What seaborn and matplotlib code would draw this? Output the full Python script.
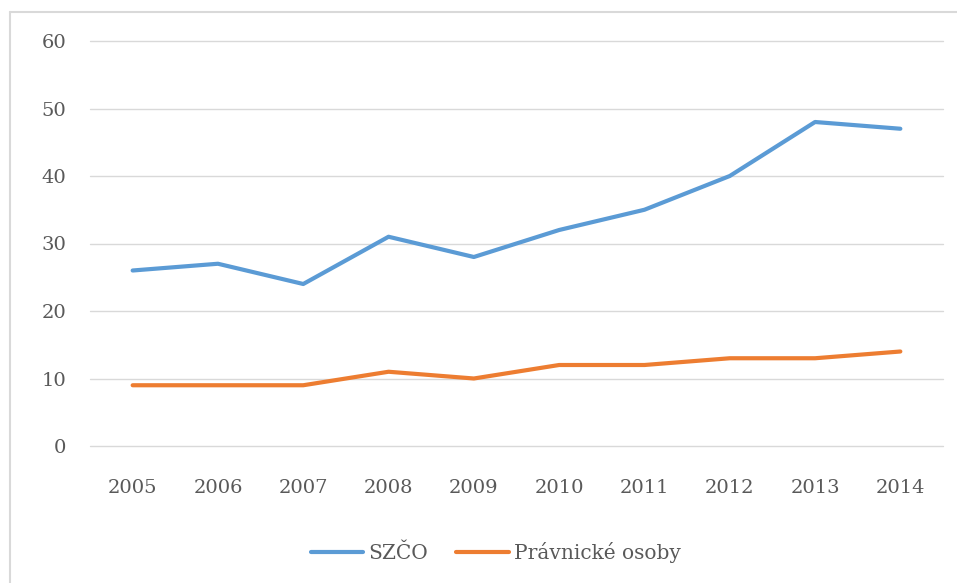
import matplotlib
matplotlib.use("Agg")
import matplotlib.pyplot as plt
from matplotlib.lines import Line2D
import seaborn as sns
import pandas as pd

years = ["2005", "2006", "2007", "2008", "2009", "2010", "2011", "2012", "2013", "2014"]
szco = [26, 27, 24, 31, 28, 32, 35, 40, 48, 47]
pravnicke = [9, 9, 9, 11, 10, 12, 12, 13, 13, 14]
series_names = ["SZČO", "Právnické osoby"]
yticks = [0, 10, 20, 30, 40, 50, 60]

df = pd.DataFrame({
    "rok": years * 2,
    "hodnota": szco + pravnicke,
    "serie": [series_names[0]] * len(years) + [series_names[1]] * len(years),
})

sns.set_theme(style="white")
plt.rcParams["font.family"] = ["DejaVu Serif"]

fig = plt.figure(figsize=(9.57, 5.83), dpi=100)
ax = fig.add_axes([90 / 957, 1 - 446 / 583, (943 - 90) / 957, (446 - 41) / 583])

palette = {series_names[0]: "#5B9BD5", series_names[1]: "#ED7D31"}
sns.lineplot(data=df, x="rok", y="hodnota", hue="serie", palette=palette,
             linewidth=3.0, ax=ax, legend=True, solid_capstyle="round")

ax.set_xlim(-0.5, len(years) - 0.5)
ax.set_ylim(0, 60)
ax.set_yticks(yticks)
ax.set_xlabel("")
ax.set_ylabel("")
for s in ax.spines.values():
    s.set_visible(False)
ax.grid(axis="y", color="#d9d9d9", linewidth=1.0)
ax.grid(axis="x", visible=False)
for gl in ax.get_ygridlines():
    gl.set_clip_on(False)
ax.set_axisbelow(True)
ax.tick_params(axis="both", length=0, labelsize=14, colors="#595959")
ax.tick_params(axis="x", pad=24)
ax.tick_params(axis="y", pad=17)

handles, labels = ax.get_legend_handles_labels()
ax.get_legend().remove()
fig.legend(handles, labels, loc="center", bbox_to_anchor=(0.518, 0.053), ncol=2,
           frameon=False, fontsize=14.5, handlelength=2.6, handletextpad=0.25,
           columnspacing=1.4, labelcolor="#595959")

fig.add_artist(Line2D([10 / 957, 1.0], [1 - 12 / 583, 1 - 12 / 583],
                      transform=fig.transFigure, color="#d9d9d9", linewidth=1.5))
fig.add_artist(Line2D([10 / 957, 10 / 957], [0.0, 1 - 12 / 583],
                      transform=fig.transFigure, color="#d9d9d9", linewidth=1.5))

fig.savefig("out.png", dpi=100)
